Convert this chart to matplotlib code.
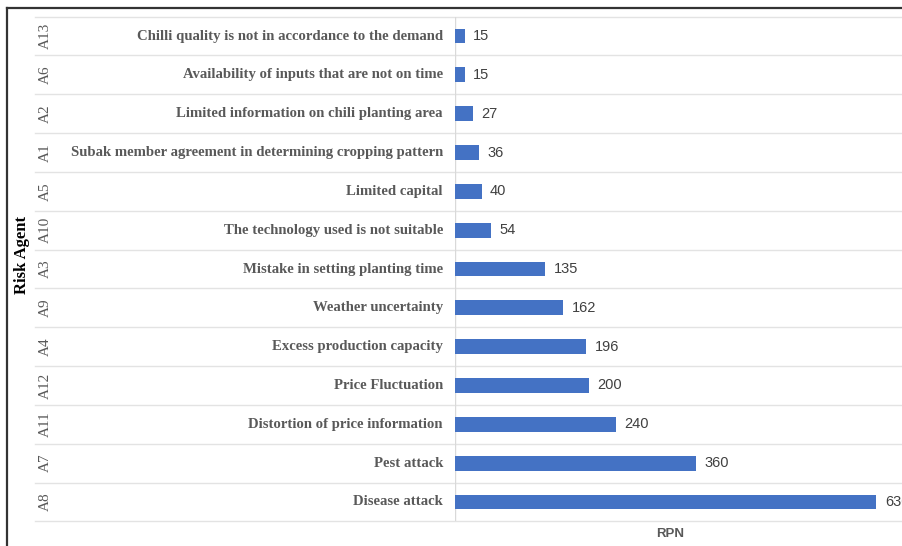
import matplotlib
matplotlib.use("Agg")
import matplotlib.pyplot as plt
from matplotlib.lines import Line2D

codes = ["A13", "A6", "A2", "A1", "A5", "A10", "A3", "A9", "A4", "A12", "A11", "A7", "A8"]
descriptions = [
    "Chilli quality is not in accordance to the demand",
    "Availability of inputs that are not on time",
    "Limited information on chili planting area",
    "Subak member agreement in determining cropping pattern",
    "Limited capital",
    "The technology used is not suitable",
    "Mistake in setting planting time",
    "Weather uncertainty",
    "Excess production capacity",
    "Price Fluctuation",
    "Distortion of price information",
    "Pest attack",
    "Disease attack",
]
rpn = [15, 15, 27, 36, 40, 54, 135, 162, 196, 200, 240, 360, 630]

W, H = 903, 546
fig = plt.figure(figsize=(W / 100, H / 100), dpi=100)

ax_left, ax_right = 455, 903
ax_top, ax_bot = 16.6, 521.4
ax = fig.add_axes([ax_left / W, 1 - ax_bot / H, (ax_right - ax_left) / W, (ax_bot - ax_top) / H])

n = len(codes)
ypos = list(range(n))
ax.barh(ypos, rpn, height=0.38, color="#4472C4", zorder=3)
ax.set_ylim(n - 0.5, -0.5)
ax.set_xlim(0, (ax_right - ax_left) / 0.669)

for s in ax.spines.values():
    s.set_visible(False)
ax.set_xticks([])
ax.set_yticks([])

trans = ax.get_yaxis_transform()
def px2ax(px):
    return (px - ax_left) / (ax_right - ax_left)

# gridlines at category boundaries
for b in [i - 0.5 for i in range(n + 1)]:
    ax.add_line(Line2D([px2ax(35), 1.0], [b, b], transform=trans, color="#E3E3E3",
                       lw=1.0, clip_on=False, zorder=1))
# vertical axis line
ax.axvline(0, color="#D9D9D9", lw=1.0, zorder=2)

for i, (c, d, v) in enumerate(zip(codes, descriptions, rpn)):
    ax.text(px2ax(443), i, d, transform=trans, ha="right", va="center",
            family="Liberation Serif", fontsize=10.6, fontweight="bold", color="#595959")
    ax.text(px2ax(45), i, c, transform=trans, ha="center", va="center", rotation=90,
            family="Liberation Serif", fontsize=11, color="#595959")
    ax.annotate(str(v), xy=(v, i), xytext=(6, 0), textcoords="offset points",
                ha="left", va="center", family="Liberation Sans", fontsize=10.5,
                color="#404040", annotation_clip=False)

fig.text(22 / W, 1 - 255 / H, "Risk Agent", rotation=90, ha="center", va="center",
         family="Liberation Serif", fontsize=12, fontweight="bold", color="black")
fig.text(670 / W, 1 - 534 / H, "RPN", ha="center", va="center",
         family="Liberation Sans", fontsize=9.5, fontweight="bold", color="#595959")

# outer frame
fig.add_artist(Line2D([7 / W, 7 / W], [0, 1 - 8 / H], transform=fig.transFigure,
                      color="#333333", lw=1.6))
fig.add_artist(Line2D([7 / W, 1], [1 - 8 / H, 1 - 8 / H], transform=fig.transFigure,
                      color="#333333", lw=1.6))

fig.savefig("out.png", dpi=100)
